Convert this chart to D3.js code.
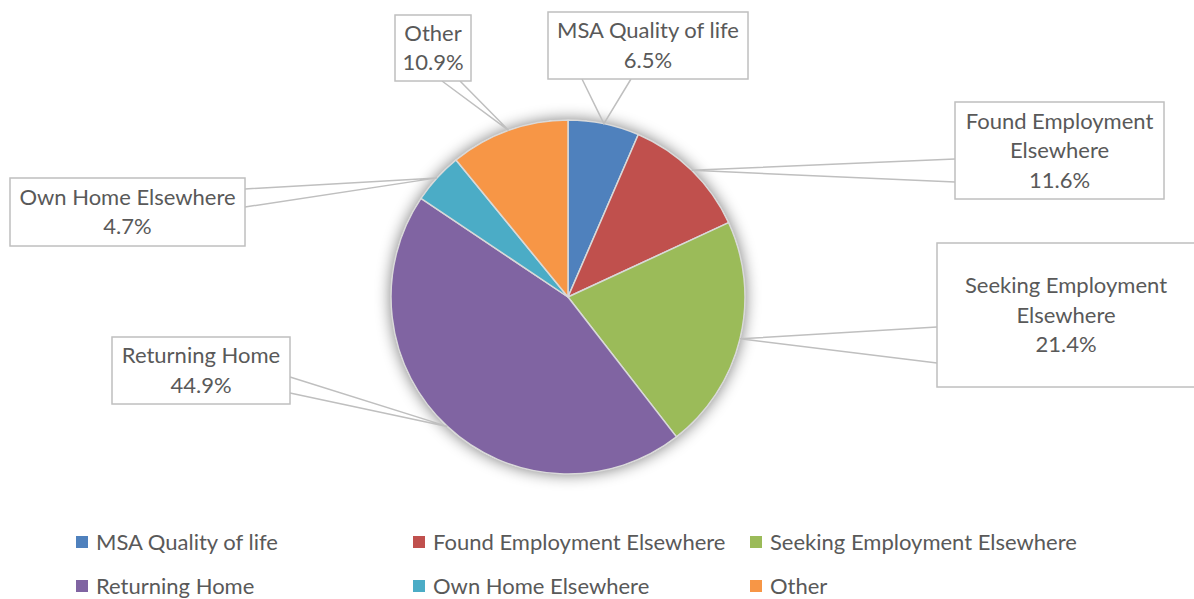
<!DOCTYPE html>
<html lang="en">
<head>
<meta charset="UTF-8">
<title>Reasons for leaving</title>
<script src="https://d3js.org/d3.v7.min.js"></script>
<style>
  body { margin: 0; background: #fff; }
  text { font-family: Lato, "Liberation Sans", sans-serif; fill: #595959; }
</style>
</head>
<body>
<script>
// data
var categories = ["MSA Quality of life", "Found Employment Elsewhere", "Seeking Employment Elsewhere",
                  "Returning Home", "Own Home Elsewhere", "Other"];
var values = [6.5, 11.6, 21.4, 44.9, 4.7, 10.9];
var colors = ["#4F81BD", "#C0504D", "#9BBB59", "#8064A2", "#4BACC6", "#F79646"];
var labelLines = [["MSA Quality of life"], ["Found Employment", "Elsewhere"], ["Seeking Employment", "Elsewhere"],
                  ["Returning Home"], ["Own Home Elsewhere"], ["Other"]];

// callout boxes: x0, y0, x1, y1, side of the pointer, pointer base a/b
var boxes = [
  {x0: 548, y0: 12,  x1: 748,  y1: 79,  side: "bottom", a: 582, b: 631},
  {x0: 955, y0: 102, x1: 1164, y1: 199, side: "left",   a: 159, b: 182},
  {x0: 937, y0: 243, x1: 1200, y1: 387, side: "left",   a: 327, b: 363},
  {x0: 112, y0: 337, x1: 290,  y1: 404, side: "right",  a: 377, b: 393},
  {x0: 10,  y0: 178, x1: 245,  y1: 246, side: "right",  a: 189, b: 207},
  {x0: 395, y0: 15,  x1: 471,  y1: 81,  side: "bottom", a: 442, b: 460}
];

var width = 1194, height = 599;
var cx = 568, cy = 297, r = 177;
var fontSize = 22, lineH = 29.5;

var svg = d3.select("body").append("svg")
    .attr("width", width).attr("height", height);

var defs = svg.append("defs");
var f = defs.append("filter").attr("id", "glow")
    .attr("x", "-20%").attr("y", "-20%").attr("width", "140%").attr("height", "140%");
f.append("feGaussianBlur").attr("in", "SourceAlpha").attr("stdDeviation", 8).attr("result", "b");
f.append("feComponentTransfer").append("feFuncA").attr("type", "linear").attr("slope", 0.55);
var m = f.append("feMerge");
m.append("feMergeNode");
m.append("feMergeNode").attr("in", "SourceGraphic");

var pie = d3.pie().sort(null).value(function(d){ return d; });
var arcs = pie(values);
var arc = d3.arc().innerRadius(0).outerRadius(r);
var edge = d3.arc().innerRadius(r).outerRadius(r);

var g = svg.append("g").attr("transform", "translate(" + cx + "," + cy + ")");
g.append("circle").attr("r", r).attr("fill", "#fff").attr("filter", "url(#glow)");
g.selectAll("path.slice")
  .data(arcs)
  .enter().append("path")
  .attr("class", "slice")
  .attr("d", arc)
  .attr("fill", function(d, i){ return colors[i]; })
  .attr("stroke", "#d9d9d9")
  .attr("stroke-width", 1.5)
  .attr("stroke-linejoin", "round");

// callouts
var fmt = d3.format(".1f");
var labels = svg.append("g");
arcs.forEach(function(d, i) {
  var bx = boxes[i];
  var tip = edge.centroid(d);
  var tx = cx + tip[0], ty = cy + tip[1];
  var p1, p2;
  if (bx.side === "bottom") { p1 = [bx.a, bx.y1]; p2 = [bx.b, bx.y1]; }
  else if (bx.side === "left") { p1 = [bx.x0, bx.a]; p2 = [bx.x0, bx.b]; }
  else { p1 = [bx.x1, bx.a]; p2 = [bx.x1, bx.b]; }

  labels.append("path")
    .attr("d", "M" + p1 + "L" + tx + "," + ty + "L" + p2)
    .attr("fill", "none").attr("stroke", "#bfbfbf").attr("stroke-width", 1.5);
  labels.append("rect")
    .attr("x", bx.x0).attr("y", bx.y0)
    .attr("width", bx.x1 - bx.x0).attr("height", bx.y1 - bx.y0)
    .attr("fill", "#fff").attr("stroke", "#bfbfbf").attr("stroke-width", 1.5);

  var lines = labelLines[i].concat([fmt(values[i]) + "%"]);
  var mx = (bx.x0 + bx.x1) / 2;
  if (i === 2) mx = 1066;
  var my = (bx.y0 + bx.y1) / 2;
  var top = my - (lines.length - 1) * lineH / 2;
  lines.forEach(function(t, k) {
    labels.append("text")
      .attr("x", mx).attr("y", top + k * lineH)
      .attr("dy", "0.35em")
      .attr("text-anchor", "middle")
      .style("font-size", fontSize + "px")
      .text(t);
  });
});

// legend
var legendX = [76, 413, 750], legendY = [542, 586];
var leg = svg.append("g");
categories.forEach(function(c, i) {
  var x = legendX[i % 3], y = legendY[Math.floor(i / 3)];
  leg.append("rect").attr("x", x).attr("y", y - 6).attr("width", 12).attr("height", 12)
    .attr("fill", colors[i]);
  leg.append("text").attr("x", x + 20).attr("y", y).attr("dy", "0.35em")
    .style("font-size", fontSize + "px").text(c);
});
</script>
</body>
</html>
